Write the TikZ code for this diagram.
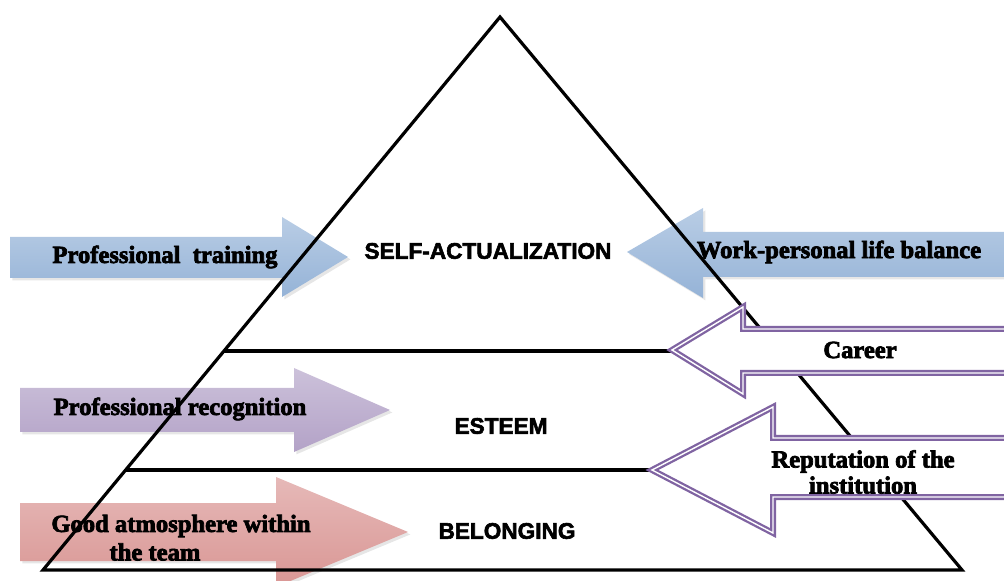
\documentclass[tikz,border=0pt]{standalone}
\usepackage{fontspec}
\newfontfamily\levelfont{Liberation Sans}[BoldFeatures={FakeBold=2.5}]
\newfontfamily\arrowfont{Liberation Serif}[BoldFeatures={FakeBold=3}]
\usetikzlibrary{calc,shadows}

\definecolor{blueTop}{HTML}{B9CDE5}
\definecolor{blueMid}{HTML}{DCE6F2}
\definecolor{blueBot}{HTML}{95B3D7}
\definecolor{lilacTop}{HTML}{CCC1DA}
\definecolor{lilacMid}{HTML}{E6E0EC}
\definecolor{lilacBot}{HTML}{B3A2C7}
\definecolor{pinkTop}{HTML}{E6B9B8}
\definecolor{pinkMid}{HTML}{F2DCDB}
\definecolor{pinkBot}{HTML}{D99694}
\definecolor{borderPurple}{HTML}{8064A2}

\tikzset{
    level/.style={inner sep=0pt, font=\levelfont\bfseries\fontsize{11.3}{13}\selectfont},
    arrowtext/.style={inner sep=0pt, align=center, font=\arrowfont\bfseries\fontsize{12.3}{13}\selectfont},
    softshadow/.style={drop shadow={shadow xshift=1.2pt, shadow yshift=-1.2pt, opacity=0.2}},
    bluearrow/.style={softshadow, top color=blueTop, middle color=blueMid, bottom color=blueBot},
    lilacarrow/.style={softshadow, top color=lilacTop, middle color=lilacMid, bottom color=lilacBot},
    pinkarrow/.style={softshadow, top color=pinkTop, middle color=pinkMid, bottom color=pinkBot},
    framearrow/.style={draw=borderPurple, double=white, line width=1.15pt, double distance=0.7pt, fill=white, line join=miter},
    pyramid/.style={line width=1.6pt, line join=miter},
}

\begin{document}
\begin{tikzpicture}[x=0.5pt, y=-0.5pt]
    \useasboundingbox (0,0) rectangle (1004,581);

    % shaded arrows
    \path[bluearrow] (10,237) -- (282,237) -- (282,217) -- (348,257) -- (282,297) -- (282,278) -- (10,278) -- cycle;
    \path[bluearrow] (1004,232) -- (703,232) -- (703,208) -- (627,252) -- (703,298) -- (703,277) -- (1004,277) -- cycle;
    \path[lilacarrow] (20,388) -- (294,388) -- (294,368) -- (390,410) -- (294,452) -- (294,432) -- (20,432) -- cycle;
    \path[pinkarrow] (20,503) -- (276,503) -- (276,477) -- (408,532) -- (276,587) -- (276,561) -- (20,561) -- cycle;

    % pyramid
    \coordinate (top) at (500,17);
    \coordinate (bl) at (43,570);
    \coordinate (br) at (962,570);
    \coordinate (l1) at ($(top)!0.604!(bl)$);
    \coordinate (r1) at ($(top)!0.604!(br)$);
    \coordinate (l2) at ($(top)!0.819!(bl)$);
    \coordinate (r2) at ($(top)!0.819!(br)$);
    \draw[pyramid] (top) -- (bl) -- (br) -- cycle;
    \draw[pyramid] (l1) -- (r1);
    \draw[pyramid] (l2) -- (r2);

    % framed arrows
    \filldraw[framearrow] (1010,329) -- (743,329) -- (743,307) -- (672,350) -- (743,394) -- (743,373) -- (1010,373);
    \filldraw[framearrow] (1010,438) -- (773,438) -- (773,407) -- (652,470) -- (773,533) -- (773,497) -- (1010,497);

    % levels
    \node (selfact) [level] at (488,251) {SELF-ACTUALIZATION};
    \node (esteem) [level] at (501,426) {ESTEEM};
    \node (belong) [level] at (507,531) {BELONGING};

    % arrow texts
    \node (training) [arrowtext] at (165,257) {Professional\ \ training};
    \node (balance) [arrowtext] at (839,252) {Work-personal life balance};
    \node (career) [arrowtext] at (860,350) {Career};
    \node (reputation) [arrowtext] at (863,472) {Reputation of the\\institution};
    \node (recognition) [arrowtext] at (180,409) {Professional recognition};
    \node (atmosphere) [arrowtext] at (181,526) {Good atmosphere within};
    \node (team) [arrowtext] at (155,552) {the team};
\end{tikzpicture}
\end{document}
